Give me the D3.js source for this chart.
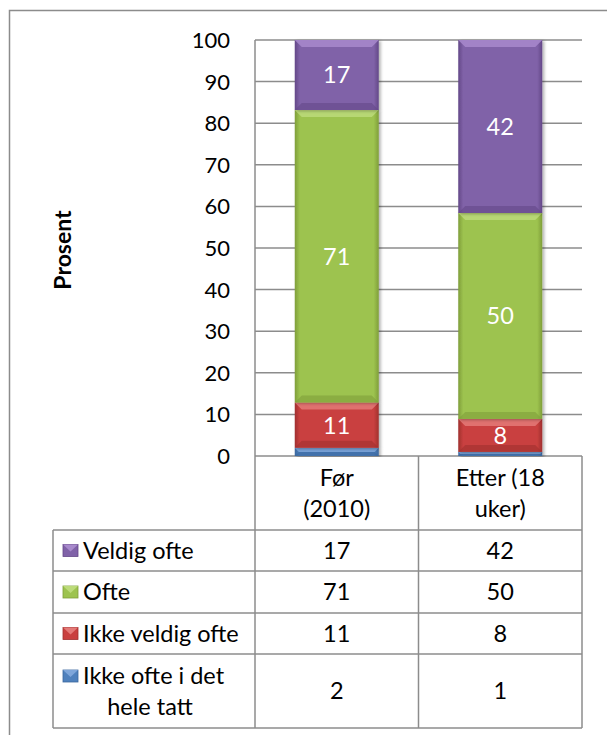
<!DOCTYPE html>
<html>
<head>
<meta charset="utf-8">
<script src="https://cdn.jsdelivr.net/npm/d3@7"></script>
<style>
  body { margin: 0; background: #fff; }
  svg { display: block; font-family: Lato, "Noto Sans", sans-serif; }
</style>
</head>
<body>
<div class="chart"></div>
<script>
// data
const categories = ["Før\n(2010)", "Etter (18\nuker)"];
const seriesNames = ["Ikke ofte i det hele tatt", "Ikke veldig ofte", "Ofte", "Veldig ofte"];
const seriesLegend = ["Ikke ofte i det\nhele tatt", "Ikke veldig ofte", "Ofte", "Veldig ofte"];
const ikkeOfte = [2, 1];
const ikkeVeldigOfte = [11, 8];
const ofte = [71, 50];
const veldigOfte = [17, 42];
const yTicks = [0, 10, 20, 30, 40, 50, 60, 70, 80, 90, 100];

const colors = ["#4F81BD", "#C9403F", "#9DC34F", "#8062A8"];
const dark = ["#3A679E", "#A0302F", "#7F9E3A", "#644888"];
const light = ["#7EA6DA", "#E47A78", "#BCDB7A", "#A88ACC"];

const width = 607, height = 735;
const plot = {left: 255, right: 582, top: 40, bottom: 456};
const table = {left: 53, top: 456, rows: [530, 571, 613, 654, 728]};
const fs = 23.5;   // table / category text
const fsTick = 22;

const svg = d3.select(".chart").append("svg")
  .attr("width", width).attr("height", height);

const grey = "#8c8c8c";

// outer chart border (runs off page right/bottom)
svg.append("rect")
  .attr("x", 9.5).attr("y", 10.5).attr("width", 640).attr("height", 760)
  .attr("fill", "none").attr("stroke", grey).attr("stroke-width", 1.5);

const x = d3.scaleBand()
  .domain(d3.range(categories.length))
  .range([plot.left, plot.right]);
const barW = 84;

const y = d3.scaleLinear().domain([0, 100]).range([plot.bottom, plot.top]);

// gridlines
svg.append("g").selectAll("line").data(yTicks).join("line")
  .attr("x1", plot.left).attr("x2", plot.right)
  .attr("y1", d => y(d)).attr("y2", d => y(d))
  .attr("stroke", grey).attr("stroke-width", 1.5);

// y axis labels
svg.append("g").selectAll("text").data(yTicks).join("text")
  .attr("x", 230).attr("y", d => y(d)).attr("dy", "0.36em")
  .attr("text-anchor", "end").attr("font-size", fsTick).attr("fill", "#000")
  .text(d => d);

svg.append("text")
  .attr("transform", `translate(71,${(plot.top + plot.bottom) / 2 + 2}) rotate(-90)`)
  .attr("text-anchor", "middle").attr("font-size", 23).attr("font-weight", "bold")
  .text("Prosent");

// stacked data, 100% stacked like the original
const seriesVals = [ikkeOfte, ikkeVeldigOfte, ofte, veldigOfte];
const rows = categories.map((c, i) => {
  const r = {i};
  seriesVals.forEach((v, k) => r[k] = v[i]);
  return r;
});
const stack = d3.stack().keys(d3.range(seriesVals.length)).offset(d3.stackOffsetExpand)(rows);

const defs = svg.append("defs");
colors.forEach((c, k) => {
  const g = defs.append("linearGradient").attr("id", "g" + k)
    .attr("x1", 0).attr("x2", 1).attr("y1", 0).attr("y2", 0);
  g.append("stop").attr("offset", "0%").attr("stop-color", dark[k]);
  g.append("stop").attr("offset", "6%").attr("stop-color", c);
  g.append("stop").attr("offset", "94%").attr("stop-color", c);
  g.append("stop").attr("offset", "100%").attr("stop-color", dark[k]);
});
defs.append("filter").attr("id", "sh").attr("x", "-20%").attr("width", "140%")
  .append("feDropShadow").attr("dx", 2).attr("dy", 1).attr("stdDeviation", 1.5)
  .attr("flood-color", "#000").attr("flood-opacity", 0.3);

const bev = 7;
stack.forEach((s, k) => {
  const g = svg.append("g");
  s.forEach((d, i) => {
    const x0 = x(i) + (x.bandwidth() - barW) / 2;
    const y0 = y(d[1] * 100), y1 = y(d[0] * 100);
    const h = y1 - y0;
    if (h <= 0) return;
    const b = Math.min(bev, h / 2);
    g.append("rect").attr("x", x0).attr("y", y0).attr("width", barW).attr("height", h)
      .attr("fill", `url(#g${k})`).attr("filter", "url(#sh)");
    g.append("polygon")
      .attr("points", [[x0, y0], [x0 + barW, y0], [x0 + barW - b, y0 + b], [x0 + b, y0 + b]].join(" "))
      .attr("fill", light[k]).attr("opacity", 0.85);
    g.append("polygon")
      .attr("points", [[x0, y1], [x0 + barW, y1], [x0 + barW - b, y1 - b], [x0 + b, y1 - b]].join(" "))
      .attr("fill", dark[k]).attr("opacity", 0.6);
    if (d.data[k] >= 5) {
      g.append("text")
        .attr("x", x0 + barW / 2).attr("y", (y0 + y1) / 2).attr("dy", "0.36em")
        .attr("text-anchor", "middle").attr("font-size", fs).attr("fill", "#fff")
        .text(d.data[k]);
    }
  });
});

// data table lines
const tl = svg.append("g").attr("stroke", grey).attr("stroke-width", 1.5);
tl.append("line").attr("x1", plot.left).attr("x2", plot.left).attr("y1", plot.top).attr("y2", table.rows[4]);
[1, 2].forEach(i => {
  const xx = i < 2 ? x(i) : plot.right;
  tl.append("line").attr("x1", xx).attr("x2", xx).attr("y1", table.top).attr("y2", table.rows[4]);
});
table.rows.forEach(r => tl.append("line").attr("x1", table.left).attr("x2", plot.right).attr("y1", r).attr("y2", r));
tl.append("line").attr("x1", table.left).attr("x2", table.left).attr("y1", table.rows[0]).attr("y2", table.rows[4]);

// category header
categories.forEach((c, i) => {
  const t = svg.append("text").attr("text-anchor", "middle").attr("font-size", fs);
  c.split("\n").forEach((line, j) => {
    t.append("tspan").attr("x", x(i) + x.bandwidth() / 2).attr("y", 478 + j * 31).attr("dy", "0.36em").text(line);
  });
});

// legend + values rows (top row = last series)
const order = [3, 2, 1, 0];
order.forEach((k, r) => {
  const top = table.rows[r], bot = table.rows[r + 1];
  const lines = seriesLegend[k].split("\n");
  const mid = (top + bot) / 2;
  const firstY = lines.length > 1 ? top + 22 : mid;
  // marker
  svg.append("rect").attr("x", 63).attr("y", firstY - 6).attr("width", 15).attr("height", 12)
    .attr("fill", colors[k]).attr("stroke", dark[k]).attr("stroke-width", 0.8);
  svg.append("polygon")
    .attr("points", [[63, firstY - 6], [78, firstY - 6], [70.5, firstY + 1]].join(" "))
    .attr("fill", light[k]);
  const t = svg.append("text").attr("font-size", fs);
  lines.forEach((line, j) => {
    const tt = t.append("tspan").attr("y", firstY + j * 31).attr("dy", "0.36em").text(line);
    if (j === 0) tt.attr("x", 83);
    else tt.attr("x", 150).attr("text-anchor", "middle");
  });
  seriesVals[k].forEach((v, i) => {
    svg.append("text").attr("x", x(i) + x.bandwidth() / 2).attr("y", mid).attr("dy", "0.36em")
      .attr("text-anchor", "middle").attr("font-size", fs).text(v);
  });
});
</script>
</body>
</html>
